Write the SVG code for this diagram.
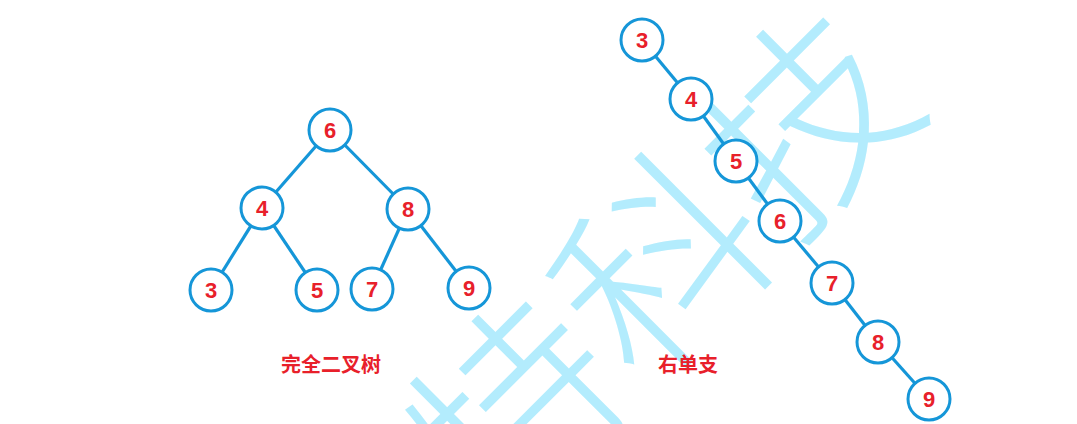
<svg xmlns="http://www.w3.org/2000/svg" width="1077" height="424" viewBox="0 0 1077 424">
<style>
.edge{stroke:#1596d8;stroke-width:3.2;fill:none}
.node circle{fill:#fff;stroke:#1596d8;stroke-width:3}
.node text{fill:#e8202a;font-family:"Liberation Sans",Arial,sans-serif;font-weight:bold;font-size:22px;text-anchor:middle;dominant-baseline:central}
.label{fill:#e8202a;font-family:"Liberation Sans","Noto Sans CJK SC",sans-serif;font-weight:bold;font-size:20px;text-anchor:middle;dominant-baseline:central}
.wm{fill:#b3ecfd;font-family:"Noto Sans CJK SC",sans-serif;font-weight:300;font-size:204px;text-anchor:middle;dominant-baseline:central}
</style>
<rect width="1077" height="424" fill="#fff"/>
<text class="wm" transform="translate(652,256) rotate(-45)">特科技</text>
<g id="connectors">
<line class="edge" x1="330" y1="130" x2="262" y2="208"/>
<line class="edge" x1="330" y1="130" x2="408" y2="209"/>
<line class="edge" x1="262" y1="208" x2="211" y2="290"/>
<line class="edge" x1="262" y1="208" x2="317" y2="290"/>
<line class="edge" x1="408" y1="209" x2="372" y2="289"/>
<line class="edge" x1="408" y1="209" x2="469" y2="288"/>
<line class="edge" x1="642" y1="40" x2="691" y2="99"/>
<line class="edge" x1="691" y1="99" x2="736" y2="161"/>
<line class="edge" x1="736" y1="161" x2="780" y2="221"/>
<line class="edge" x1="780" y1="221" x2="832" y2="283"/>
<line class="edge" x1="832" y1="283" x2="878" y2="342"/>
<line class="edge" x1="878" y1="342" x2="929" y2="399"/>
</g>
<g id="n6" class="node"><circle cx="330" cy="130" r="21"/><text x="330" y="130">6</text></g>
<g id="n4" class="node"><circle cx="262" cy="208" r="21"/><text x="262" y="208">4</text></g>
<g id="n8" class="node"><circle cx="408" cy="209" r="21"/><text x="408" y="209">8</text></g>
<g id="n3" class="node"><circle cx="211" cy="290" r="21"/><text x="211" y="290">3</text></g>
<g id="n5" class="node"><circle cx="317" cy="290" r="21"/><text x="317" y="290">5</text></g>
<g id="n7" class="node"><circle cx="372" cy="289" r="21"/><text x="372" y="289">7</text></g>
<g id="n9" class="node"><circle cx="469" cy="288" r="21"/><text x="469" y="288">9</text></g>
<g id="r3" class="node"><circle cx="642" cy="40" r="21"/><text x="642" y="40">3</text></g>
<g id="r4" class="node"><circle cx="691" cy="99" r="21"/><text x="691" y="99">4</text></g>
<g id="r5" class="node"><circle cx="736" cy="161" r="21"/><text x="736" y="161">5</text></g>
<g id="r6" class="node"><circle cx="780" cy="221" r="21"/><text x="780" y="221">6</text></g>
<g id="r7" class="node"><circle cx="832" cy="283" r="21"/><text x="832" y="283">7</text></g>
<g id="r8" class="node"><circle cx="878" cy="342" r="21"/><text x="878" y="342">8</text></g>
<g id="r9" class="node"><circle cx="929" cy="399" r="21"/><text x="929" y="399">9</text></g>
<text class="label" x="331" y="365">完全二叉树</text>
<text class="label" x="688" y="365">右单支</text>
</svg>
